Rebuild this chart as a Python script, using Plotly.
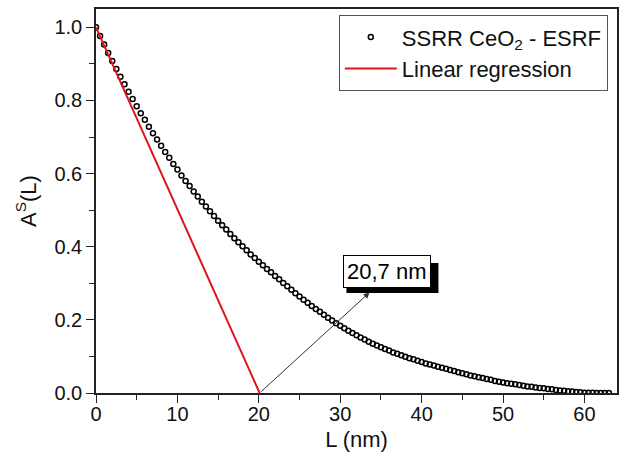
import plotly.graph_objects as go

# Measured data: L (nm) and A^S(L)
L_nm = [i * 0.5 for i in range(127)]
A_s = [
    1.000, 0.976, 0.953, 0.930, 0.908, 0.886, 0.865, 0.844, 0.824, 0.804,
    0.784, 0.765, 0.747, 0.728, 0.710, 0.693, 0.676, 0.659, 0.643, 0.626,
    0.611, 0.595, 0.580, 0.566, 0.551, 0.537, 0.523, 0.510, 0.497, 0.484,
    0.471, 0.459, 0.447, 0.435, 0.423, 0.412, 0.401, 0.390, 0.379, 0.369,
    0.359, 0.349, 0.339, 0.330, 0.320, 0.311, 0.301, 0.292, 0.282, 0.273,
    0.264, 0.255, 0.247, 0.238, 0.230, 0.222, 0.214, 0.206, 0.198, 0.191,
    0.184, 0.177, 0.170, 0.164, 0.158, 0.152, 0.146, 0.140, 0.135, 0.130,
    0.125, 0.120, 0.116, 0.111, 0.107, 0.103, 0.099, 0.095, 0.092, 0.088,
    0.085, 0.081, 0.078, 0.075, 0.072, 0.069, 0.066, 0.063, 0.060, 0.057,
    0.054, 0.051, 0.048, 0.046, 0.043, 0.041, 0.038, 0.036, 0.033, 0.031,
    0.029, 0.027, 0.025, 0.024, 0.022, 0.020, 0.018, 0.017, 0.015, 0.014,
    0.013, 0.011, 0.010, 0.008, 0.007, 0.006, 0.005, 0.004, 0.003, 0.002,
    0.001, 0.001, 0.001, 0.000, 0.000, 0.000, 0.000,
]

# Linear regression line
lin_x = [0.0, 20.1]
lin_y = [1.0, 0.0]

# Annotation
label_text = "20,7 nm"
label_pos = (35.8, 0.331)
arrow_tip = (33.6, 0.275)
arrow_tail = (20.1, 0.0)

FONT = "Liberation Sans, Arial, sans-serif"

fig = go.Figure()
fig.add_trace(go.Scatter(
    x=L_nm, y=A_s, mode="markers",
    name="SSRR CeO<sub>2</sub> - ESRF",
    marker=dict(symbol="circle-open", size=5, color="black",
                line=dict(width=1.5, color="black")),
))
fig.add_trace(go.Scatter(
    x=lin_x, y=lin_y, mode="lines", name="Linear regression",
    line=dict(color="rgb(220,20,30)", width=2),
))

# arrow from regression intercept toward label
fig.add_annotation(
    x=arrow_tip[0], y=arrow_tip[1], ax=arrow_tail[0], ay=arrow_tail[1],
    xref="x", yref="y", axref="x", ayref="y", text="",
    showarrow=True, arrowhead=2, arrowsize=1.2, arrowwidth=1,
    arrowcolor="#333333", standoff=0,
)
# drop shadow of the label box (pixel-sized shape anchored at the label)
fig.add_shape(
    type="rect", xref="x", yref="y",
    xsizemode="pixel", ysizemode="pixel",
    xanchor=label_pos[0], yanchor=label_pos[1],
    x0=-41, x1=51, y0=-21, y1=9,
    fillcolor="black", line=dict(width=0), layer="above",
)
# label box
fig.add_annotation(
    x=label_pos[0], y=label_pos[1], xref="x", yref="y", text=label_text,
    showarrow=False, font=dict(family=FONT, size=22, color="black"),
    bgcolor="white", bordercolor="black", borderwidth=1, borderpad=3,
)

axis_common = dict(
    showgrid=False, zeroline=False, showline=True, linecolor="#222222",
    linewidth=1.5, mirror=True, ticks="outside", ticklen=8, tickwidth=1.2,
    tickcolor="#222222", tickfont=dict(family=FONT, size=20, color="#111111"),
    automargin=False,
)

fig.update_xaxes(
    range=[0, 64], dtick=10, tick0=0, ticklabelstandoff=-6,
    minor=dict(ticks="outside", ticklen=5, dtick=5, tickcolor="#222222", tickwidth=1.2),
    title=dict(text="L (nm)", font=dict(family=FONT, size=22, color="#111111"), standoff=8),
    **axis_common,
)
fig.update_yaxes(
    range=[0, 1.05], dtick=0.2, tick0=0, tickformat=".1f",
    minor=dict(ticks="outside", ticklen=5, dtick=0.1, tickcolor="#222222", tickwidth=1.2),
    title=dict(text="A<sup>S</sup>(L)", font=dict(family=FONT, size=22, color="#111111"), standoff=12),
    **axis_common,
)

fig.update_layout(
    width=627, height=468,
    margin=dict(l=96, r=10, t=9, b=75),
    plot_bgcolor="white", paper_bgcolor="white",
    font=dict(family=FONT, color="#111111"),
    legend=dict(
        x=0.466, y=0.984, xanchor="left", yanchor="top",
        bgcolor="white", bordercolor="#555555", borderwidth=1,
        font=dict(family=FONT, size=22, color="#111111"),
        tracegroupgap=0, itemwidth=52,
    ),
)

fig.write_html(
    "out.html",
    config={"displayModeBar": False},
    post_script="document.body.style.margin='0';document.body.style.padding='0';",
)
